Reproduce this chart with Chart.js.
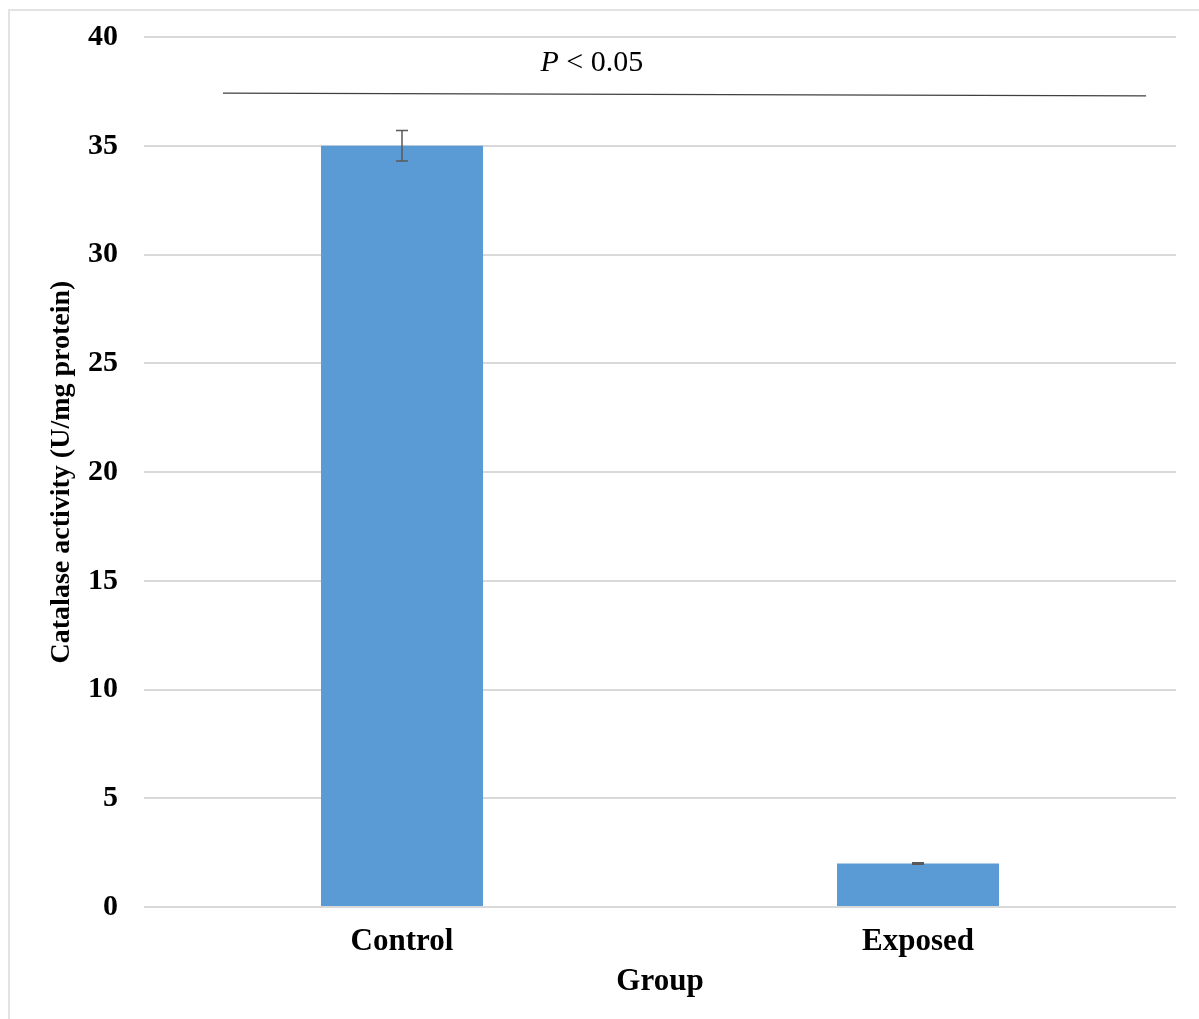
<!DOCTYPE html>
<html>
<head>
<meta charset="utf-8">
<script src="https://cdn.jsdelivr.net/npm/chart.js@4.4.0/dist/chart.umd.min.js"></script>
<style>
  body { margin: 0; background: #fff; }
  #wrap { position: relative; width: 1199px; height: 1019px; }
  #frame { position: absolute; left: 8px; top: 9px; right: -10px; bottom: -10px;
           border-left: 2px solid #e3e3e3; border-top: 2px solid #e3e3e3; }
  canvas { display: block; }
</style>
</head>
<body>
<div id="wrap">
  <div id="frame"></div>
  <canvas id="grafica" width="1199" height="1019"></canvas>
</div>
<script>
// datos
const grupos = ['Control', 'Exposed'];
const catalasa = [35.0, 2.0];
const errores = [0.7, 0.03];
const yTicks = [0, 5, 10, 15, 20, 25, 30, 35, 40];
// linea de significancia (x en indice de categoria)
const lineaSig = [{ x: -0.347, y: 37.42 }, { x: 1.442, y: 37.29 }];
const textoSig = { x: 0.368, y: 38.8, p: 'P', resto: ' < 0.05' };

const fuente = '"Liberation Serif", "Times New Roman", serif';

// barras de error
const barrasError = {
  id: 'barrasError',
  afterDatasetsDraw(chart) {
    const ctx = chart.ctx;
    const meta = chart.getDatasetMeta(0);
    const y = chart.scales.y;
    ctx.save();
    ctx.strokeStyle = '#595959';
    ctx.lineWidth = 1.5;
    meta.data.forEach((bar, i) => {
      const v = catalasa[i], e = errores[i];
      const y1 = y.getPixelForValue(v + e), y2 = y.getPixelForValue(v - e);
      ctx.beginPath();
      ctx.moveTo(bar.x, y1); ctx.lineTo(bar.x, y2);
      ctx.moveTo(bar.x - 6, y1); ctx.lineTo(bar.x + 6, y1);
      ctx.moveTo(bar.x - 6, y2); ctx.lineTo(bar.x + 6, y2);
      ctx.stroke();
    });
    ctx.restore();
  }
};

// P < 0.05
const significancia = {
  id: 'significancia',
  afterDatasetsDraw(chart) {
    const ctx = chart.ctx;
    const x = chart.scales.x, y = chart.scales.y;
    ctx.save();
    ctx.strokeStyle = '#404040';
    ctx.lineWidth = 1.3;
    ctx.beginPath();
    ctx.moveTo(x.getPixelForValue(lineaSig[0].x), y.getPixelForValue(lineaSig[0].y));
    ctx.lineTo(x.getPixelForValue(lineaSig[1].x), y.getPixelForValue(lineaSig[1].y));
    ctx.stroke();

    const tx = x.getPixelForValue(textoSig.x), ty = y.getPixelForValue(textoSig.y);
    ctx.fillStyle = '#000';
    ctx.textBaseline = 'middle';
    ctx.font = 'italic 30px ' + fuente;
    const wP = ctx.measureText(textoSig.p).width;
    ctx.font = '30px ' + fuente;
    const wR = ctx.measureText(textoSig.resto).width;
    const x0 = tx - (wP + wR) / 2;
    ctx.textAlign = 'left';
    ctx.font = 'italic 30px ' + fuente;
    ctx.fillText(textoSig.p, x0, ty);
    ctx.font = '30px ' + fuente;
    ctx.fillText(textoSig.resto, x0 + wP, ty);
    ctx.restore();
  }
};

const grafica = new Chart(document.getElementById('grafica'), {
  type: 'bar',
  data: {
    labels: grupos,
    datasets: [{
      label: 'Catalase activity',
      data: catalasa,
      backgroundColor: '#5b9bd5',
      borderWidth: 0,
      barPercentage: 0.314,
      categoryPercentage: 1
    }]
  },
  options: {
    responsive: false,
    animation: false,
    layout: { padding: { left: 45, right: 23, top: 37, bottom: 18 } },
    plugins: { legend: { display: false }, tooltip: { enabled: false } },
    scales: {
      x: {
        afterFit(scale) { scale.height = 94; },
        grid: { display: false, drawTicks: false },
        border: { display: false },
        ticks: { color: '#000', font: { family: fuente, size: 31, weight: 'bold' }, padding: 16 },
        title: { display: true, text: 'Group', color: '#000', font: { family: fuente, size: 31, weight: 'bold' }, padding: { top: 0, bottom: 0 } }
      },
      y: {
        min: 0, max: 40,
        afterBuildTicks(scale) { scale.ticks = yTicks.map(v => ({ value: v })); },
        afterFit(scale) { scale.width = 99; scale.paddingTop = 0; scale.paddingBottom = 0; },
        grid: { color: '#d9d9d9', lineWidth: 2, drawTicks: false },
        border: { display: false },
        ticks: { color: '#000', font: { family: fuente, size: 30, weight: 'bold' }, padding: 26 },
        title: { display: true, text: 'Catalase activity (U/mg protein)', color: '#000', font: { family: fuente, size: 28, weight: 'bold' }, padding: { top: 0, bottom: 0 } }
      }
    }
  },
  plugins: [barrasError, significancia]
});
</script>
</body>
</html>
